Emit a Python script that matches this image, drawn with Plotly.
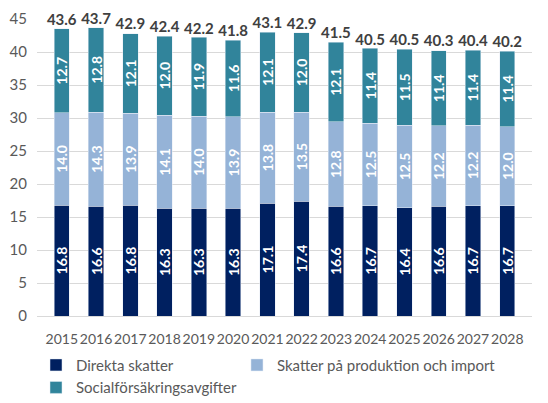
import plotly.graph_objects as go

years = ["2015", "2016", "2017", "2018", "2019", "2020", "2021",
         "2022", "2023", "2024", "2025", "2026", "2027", "2028"]
direkta = [16.8, 16.6, 16.8, 16.3, 16.3, 16.3, 17.1, 17.4, 16.6, 16.7, 16.4, 16.6, 16.7, 16.7]
produktion = [14.0, 14.3, 13.9, 14.1, 14.0, 13.9, 13.8, 13.5, 12.8, 12.5, 12.5, 12.2, 12.2, 12.0]
social = [12.7, 12.8, 12.1, 12.0, 11.9, 11.6, 12.1, 12.0, 12.1, 11.4, 11.5, 11.4, 11.4, 11.4]
totals = [43.6, 43.7, 42.9, 42.4, 42.2, 41.8, 43.1, 42.9, 41.5, 40.5, 40.5, 40.3, 40.4, 40.2]

font = "Lato"
# name, values, colour, which legend box
series = [
    ("Direkta skatter", direkta, "#002060", "legend"),
    ("Skatter på produktion och import", produktion, "#95B3D7", "legend2"),
    ("Socialförsäkringsavgifter", social, "#31849B", "legend"),
]

fig = go.Figure()
for name, vals, col, lg in series:
    fig.add_bar(x=years, y=vals, name=name, marker_color=col, legend=lg,
                text=[f"{v:.1f}" for v in vals], textposition="inside",
                insidetextanchor="middle", textangle=-90,
                textfont=dict(color="white", size=14, family=font, weight="bold"),
                cliponaxis=False)

# totals above the bars
fig.add_scatter(x=years, y=totals, mode="text", text=[f"{v:.1f}" for v in totals],
                textposition="top center", showlegend=False, cliponaxis=False,
                textfont=dict(color="#404040", size=15, family=font, weight="bold"))

leg = dict(orientation="v", xanchor="left", yanchor="top", y=-0.11,
           traceorder="normal", font=dict(size=15, color="#595959"),
           itemwidth=30, tracegroupgap=0, bgcolor="rgba(0,0,0,0)")

# page body has an 8px margin, so the figure is a bit smaller than the window
fig.update_layout(
    width=540, height=395, barmode="stack", bargap=0.55,
    plot_bgcolor="white", paper_bgcolor="white",
    margin=dict(l=29, r=16, t=11, b=87, autoexpand=False),
    font=dict(family=font, size=14, color="#595959"),
    uniformtext=dict(minsize=13, mode="show"),
    legend=dict(leg, x=-0.002),
    legend2=dict(leg, x=0.404),
)
fig.update_xaxes(type="category", showgrid=False, showline=True, linecolor="#d9d9d9",
                 ticks="", tickangle=0, tickfont=dict(size=14), ticklabelstandoff=10)
fig.update_yaxes(range=[0, 45], dtick=5, showgrid=True, gridcolor="#d9d9d9",
                 zeroline=False, showline=False, ticks="", tickfont=dict(size=15),
                 ticklabelstandoff=9)

fig.write_html("out.html")
